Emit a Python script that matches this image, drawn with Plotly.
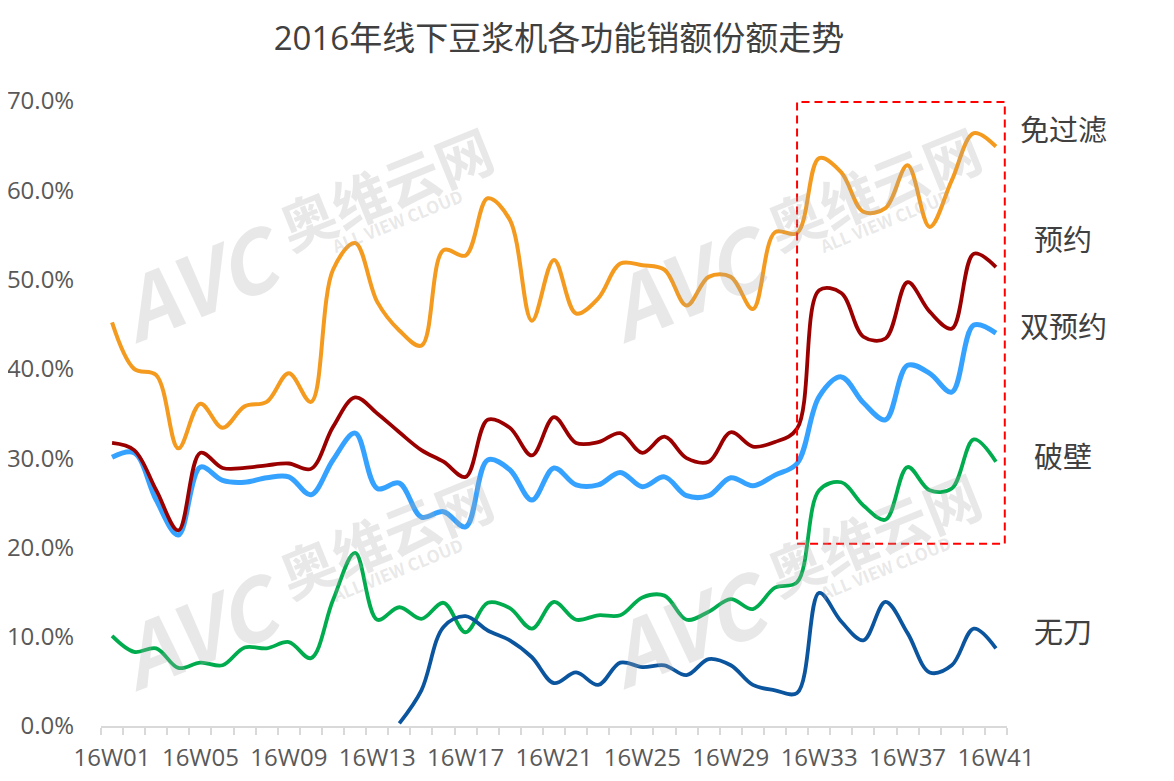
import plotly.graph_objects as go

# ---------------- data ----------------
weeks = ["16W%02d" % i for i in range(1, 42)]

series_names = ["免过滤", "预约", "双预约", "破壁", "无刀"]

mianguolv = [45.2, 40.0, 39.3, 31.1, 36.1, 33.4, 35.8, 36.3, 39.5, 36.3,
             51.1, 54.1, 47.5, 44.3, 42.6, 53.3, 52.7, 59.1, 56.7, 45.4,
             52.2, 46.2, 47.9, 51.8, 51.6, 51.1, 47.1, 50.3, 50.3, 46.7,
             55.3, 55.2, 63.6, 62.0, 57.6, 58.0, 62.8, 55.9, 61.1, 66.4, 64.9]

yuyue = [31.7, 30.9, 26.4, 21.9, 30.6, 28.9, 28.9, 29.2, 29.4, 28.8,
         33.5, 36.8, 35.0, 32.9, 30.9, 29.6, 27.9, 34.3, 33.4, 30.3,
         34.6, 31.7, 31.8, 32.8, 30.6, 32.4, 30.0, 29.6, 32.9, 31.3,
         31.8, 33.3, 48.8, 48.5, 43.6, 43.4, 49.7, 46.4, 44.5, 52.9, 51.4]

shuangyuyue = [30.1, 30.6, 25.3, 21.4, 29.0, 27.5, 27.3, 27.8, 27.9, 25.9,
               29.8, 32.8, 26.6, 27.2, 23.4, 24.0, 22.3, 29.8, 28.7, 25.3,
               28.9, 27.0, 27.0, 28.4, 26.8, 27.9, 25.8, 25.8, 27.8, 26.9,
               28.1, 29.4, 36.9, 39.1, 36.2, 34.3, 40.4, 39.5, 37.4, 44.9, 44.0]

pobi = [10.1, 8.3, 8.7, 6.5, 7.1, 6.8, 8.8, 8.7, 9.4, 7.6,
        14.1, 19.4, 11.9, 13.3, 12.0, 13.8, 10.5, 13.8, 13.2, 10.9,
        13.9, 11.9, 12.4, 12.4, 14.4, 14.6, 11.9, 12.8, 14.2, 13.1,
        15.5, 16.1, 26.4, 27.3, 24.7, 23.1, 29.0, 26.4, 26.6, 32.1, 29.6]

wudao = [None, None, None, None, None, None, None, None, None, None,
         None, None, None, 0.3, 4.0, 11.1, 12.3, 10.7, 9.6, 7.7,
         4.8, 6.0, 4.6, 7.1, 6.6, 6.8, 5.7, 7.5, 6.8, 4.6,
         4.0, 3.7, 14.9, 11.7, 9.6, 13.9, 10.4, 6.0, 6.8, 10.9, 8.7]

colors = {"免过滤": "#F39A1F", "预约": "#9A0000", "双预约": "#36A2FF",
          "破壁": "#00AC4E", "无刀": "#0B559E"}
widths = {"免过滤": 4, "预约": 3.8, "双预约": 5, "破壁": 3.8, "无刀": 3.8}
values = {"免过滤": mianguolv, "预约": yuyue, "双预约": shuangyuyue,
          "破壁": pobi, "无刀": wudao}

xs = list(range(len(weeks)))

fig = go.Figure()
for name in ["双预约", "预约", "免过滤", "破壁", "无刀"]:
    fig.add_trace(go.Scatter(
        x=xs, y=values[name], name=name, mode="lines",
        line=dict(color=colors[name], width=widths[name], shape="spline", smoothing=1.0),
        connectgaps=False, showlegend=False, hoverinfo="x+y+name"))

# ---------------- layout ----------------
# page body has an 8px margin: shift the figure content up/left by 8px
OFF = 8
W, H = 1174, 781
L, R, T, B = 101 - OFF, 167 + OFF, 101 - OFF, 55 + OFF
pw, ph = W - L - R, H - T - B

def px2paper(X, Y):
    # X, Y are screen pixel positions
    return (X - OFF - L) / pw, (H - B - (Y - OFF)) / ph

font_lat = "Open Sans, Noto Sans CJK SC, sans-serif"

annotations = []
# series labels on the right
label_y = {"免过滤": 128, "预约": 238, "双预约": 325, "破壁": 455, "无刀": 630}
for name in series_names:
    ax, ay = px2paper(1063, label_y[name])
    annotations.append(dict(x=ax, y=ay, xref="paper", yref="paper", text=name,
                            showarrow=False, xanchor="center", yanchor="middle",
                            font=dict(family="Noto Sans CJK SC, sans-serif", size=29, color="#404040")))

# watermarks
wm_color = "rgba(170,170,170,0.27)"
for (cx, cy) in [(200, 278), (688, 278), (200, 626), (688, 624)]:
    for dx, dy, txt, sz in [(0, 0, "<b><i>AVC</i></b>", 84),
                            (185, -92, "<b>奥维云网</b>", 56),
                            (197, -57, "<b>ALL VIEW CLOUD</b>", 17)]:
        ax, ay = px2paper(cx + dx, cy + dy)
        annotations.append(dict(x=ax, y=ay, xref="paper", yref="paper", text=txt,
                                showarrow=False, textangle=-22,
                                xanchor="center", yanchor="middle",
                                font=dict(family="Noto Sans CJK SC, Roboto, sans-serif", size=sz, color=wm_color)))

fig.update_layout(
    width=W, height=H,
    margin=dict(l=L, r=R, t=T, b=B, autoexpand=False),
    paper_bgcolor="white", plot_bgcolor="white",
    title=dict(text="2016年线下豆浆机各功能销额份额走势", x=(559 - OFF) / W, xanchor="center",
               y=1 - (38 - OFF) / H, yanchor="middle", yref="container",
               font=dict(family=font_lat, size=33, color="#404040")),
    xaxis=dict(range=[-0.5, len(weeks) - 0.5], showgrid=False, zeroline=False,
               automargin=False,
               showline=True, linecolor="#d9d9d9", linewidth=2,
               tickmode="array", tickvals=xs[::4], ticktext=weeks[::4],
               ticks="outside", ticklen=9, tickcolor="rgba(0,0,0,0)",
               tickfont=dict(family=font_lat, size=24, color="#595959"),
               minor=dict(ticks="outside", tick0=0.5, dtick=1, ticklen=7,
                          tickcolor="#d9d9d9", tickwidth=2, showgrid=False)),
    yaxis=dict(range=[0, 70], dtick=10, tickformat=".1f", ticksuffix="%",
               showgrid=False, zeroline=False, showline=False,
               automargin=False,
               ticks="outside", ticklen=21, tickcolor="rgba(0,0,0,0)",
               tickfont=dict(family=font_lat, size=24, color="#595959")),
    annotations=annotations,
    shapes=[dict(type="rect", xref="x", yref="y",
                 x0=weeks.index("16W32"), x1=len(weeks) - 0.6, y0=20.4, y1=69.9,
                 line=dict(color="#FF0000", width=2, dash="8px,5px"),
                 fillcolor="rgba(0,0,0,0)", layer="above")],
)

fig.write_html("out.html")
